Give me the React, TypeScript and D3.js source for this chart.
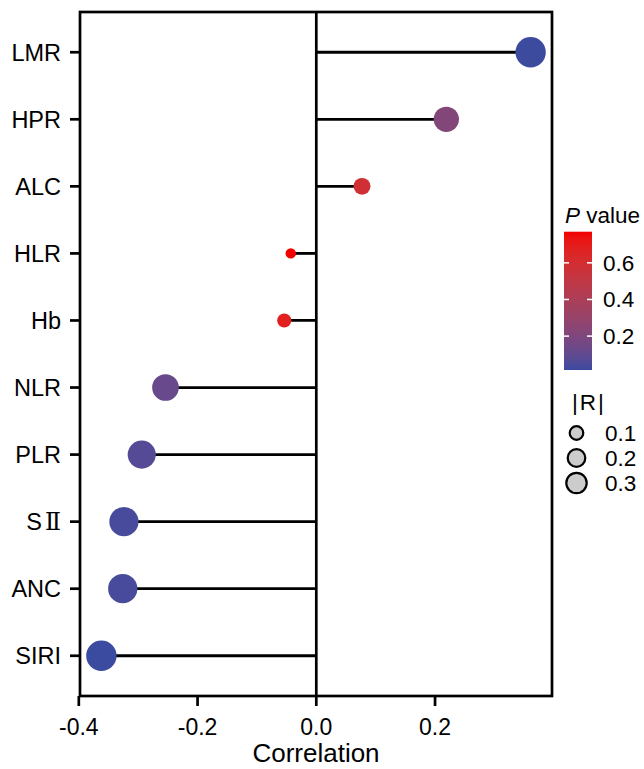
import React from "react";
import * as d3 from "d3";

const categories = ["LMR", "HPR", "ALC", "HLR", "Hb", "NLR", "PLR", "SⅡ", "ANC", "SIRI"];
const correlations = [0.361, 0.219, 0.077, -0.043, -0.054, -0.254, -0.294, -0.324, -0.326, -0.362];
const pValues = [0.018, 0.22, 0.58, 0.77, 0.68, 0.12, 0.07, 0.04, 0.04, 0.015];
const xTicks = [-0.4, -0.2, 0.0, 0.2];
const pTicks = [0.2, 0.4, 0.6];
const sizeLegendValues = [0.1, 0.2, 0.3];

const W = 644;
const H = 769;
const FONT = "'Liberation Sans', Arial, sans-serif";

export default function App() {
  const left = 80, right = 552, top = 12, bottom = 696;
  const x = d3.scaleLinear().domain([-0.398, 0.397]).range([left, right]);
  const y = d3.scalePoint<string>().domain(categories).range([top, bottom]).padding(0.6);

  const absVals = correlations.map((v) => Math.abs(v));
  const absExt = d3.extent(absVals) as [number, number];
  const t = d3.scaleLinear().domain(absExt).range([0, 1]);
  const rLin = d3.scaleLinear().domain([0, 1]).range([5.2, 15.2]);
  const rScale = (v: number) => rLin(Math.sqrt(Math.max(0, t(v))));

  const pExt = d3.extent(pValues) as [number, number];
  const color = d3.scaleLinear<string>().domain(pExt).range(["#3B4BA0", "#F20000"]).interpolate(d3.interpolateLab);

  const cbTop = 231.7, cbBottom = 370, cbLeft = 564, cbW = 28;
  const cbY = d3.scaleLinear().domain(pExt).range([cbBottom, cbTop]);
  const stops = d3.range(0, 1.0001, 0.05);

  const legendY = d3.scalePoint<number>().domain(sizeLegendValues).range([433, 483]);

  return (
    <svg width={W} height={H} style={{ position: "absolute", left: 0, top: 0 }} fontFamily={FONT}>
      <defs>
        <linearGradient id="pgrad" x1="0" y1="1" x2="0" y2="0">
          {stops.map((s) => (
            <stop key={s} offset={s} stopColor={color(pExt[0] + s * (pExt[1] - pExt[0]))} />
          ))}
        </linearGradient>
      </defs>
      <rect x={0} y={0} width={W} height={H} fill="#fff" />
      <line x1={x(0)} x2={x(0)} y1={top} y2={bottom} stroke="#000" strokeWidth={2.7} />
      {categories.map((c, i) => (
        <line key={"s" + c} x1={x(0)} x2={x(correlations[i])} y1={y(c)} y2={y(c)} stroke="#000" strokeWidth={2.8} />
      ))}
      {categories.map((c, i) => (
        <circle key={"p" + c} cx={x(correlations[i])} cy={y(c)} r={rScale(Math.abs(correlations[i]))} fill={color(pValues[i])} />
      ))}
      <rect x={left} y={top} width={right - left} height={bottom - top} fill="none" stroke="#000" strokeWidth={2.7} />
      {categories.map((c) => (
        <g key={"y" + c}>
          <line x1={left - 10} x2={left} y1={y(c)} y2={y(c)} stroke="#000" strokeWidth={2.7} />
          <text x={61} y={(y(c) as number) + 8.5} textAnchor="end" fontSize={23.5} fill="#000">
            {c === "SⅡ" ? (
              <>
                <tspan>S</tspan>
                <tspan fontFamily="'Liberation Serif', 'DejaVu Serif', serif" dx={3}>Ⅱ</tspan>
              </>
            ) : (
              c
            )}
          </text>
        </g>
      ))}
      {xTicks.map((v) => (
        <g key={"x" + v}>
          <line x1={x(v)} x2={x(v)} y1={bottom} y2={bottom + 10} stroke="#000" strokeWidth={2.7} />
          <text x={x(v)} y={735} textAnchor="middle" fontSize={23} fill="#000">
            {v.toFixed(1)}
          </text>
        </g>
      ))}
      <text x={(left + right) / 2} y={762} textAnchor="middle" fontSize={26} fill="#000">
        Correlation
      </text>
      <text x={565} y={223} fontSize={22.5} fill="#000">
        <tspan fontStyle="italic">P</tspan>
        <tspan> value</tspan>
      </text>
      <rect x={cbLeft} y={cbTop} width={cbW} height={cbBottom - cbTop} fill="url(#pgrad)" />
      {pTicks.map((v) => (
        <g key={"pt" + v}>
          <line x1={cbLeft} x2={cbLeft + 5} y1={cbY(v)} y2={cbY(v)} stroke="#fff" strokeWidth={1.5} />
          <line x1={cbLeft + cbW - 5} x2={cbLeft + cbW} y1={cbY(v)} y2={cbY(v)} stroke="#fff" strokeWidth={1.5} />
          <text x={603} y={cbY(v) + 8} fontSize={22.5} fill="#000">
            {v.toFixed(1)}
          </text>
        </g>
      ))}
      <text x={572} y={410} fontSize={22.5} fill="#000" letterSpacing={2}>
        |R|
      </text>
      {sizeLegendValues.map((v) => (
        <g key={"sl" + v}>
          <circle cx={576.5} cy={legendY(v)} r={rScale(v) * 0.72} fill="#CCCCCC" stroke="#000" strokeWidth={2.2} />
          <text x={605} y={(legendY(v) as number) + 8} fontSize={22.5} fill="#000">
            {v.toFixed(1)}
          </text>
        </g>
      ))}
    </svg>
  );
}
